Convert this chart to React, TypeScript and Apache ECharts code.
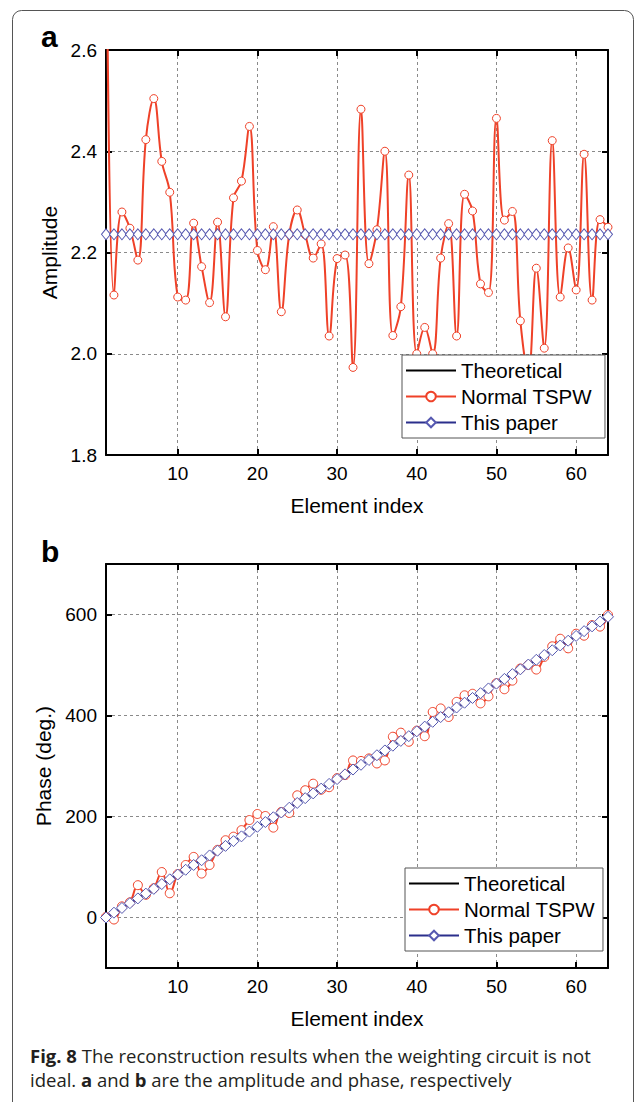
import React, { useEffect, useRef } from "react";
import * as echarts from "echarts";

// ---------- data ----------
const elementIndex = Array.from({ length: 64 }, (_, k) => k + 1);
const xTickValues = [10, 20, 30, 40, 50, 60];
const phaseTickValues = [0, 200, 400, 600];

const ampTheoretical = [
  2.236, 2.236, 2.236, 2.236, 2.236, 2.236, 2.236, 2.236, 2.236, 2.236, 2.236, 2.236, 2.236, 2.236, 2.236, 2.236,
  2.236, 2.236, 2.236, 2.236, 2.236, 2.236, 2.236, 2.236, 2.236, 2.236, 2.236, 2.236, 2.236, 2.236, 2.236, 2.236,
  2.236, 2.236, 2.236, 2.236, 2.236, 2.236, 2.236, 2.236, 2.236, 2.236, 2.236, 2.236, 2.236, 2.236, 2.236, 2.236,
  2.236, 2.236, 2.236, 2.236, 2.236, 2.236, 2.236, 2.236, 2.236, 2.236, 2.236, 2.236, 2.236, 2.236, 2.236, 2.236,
];
const ampNormalTSPW = [
  3.0, 2.116, 2.28, 2.248, 2.185, 2.423, 2.504, 2.38, 2.319, 2.112, 2.106, 2.258, 2.172, 2.101, 2.26, 2.073,
  2.308, 2.341, 2.449, 2.204, 2.166, 2.251, 2.083, 2.236, 2.284, 2.235, 2.189, 2.217, 2.035, 2.188, 2.195, 1.973,
  2.483, 2.178, 2.245, 2.4, 2.036, 2.093, 2.353, 2.0, 2.052, 2.0, 2.189, 2.257, 2.035, 2.315, 2.282, 2.138,
  2.121, 2.465, 2.264, 2.281, 2.065, 1.96, 2.169, 2.011, 2.421, 2.112, 2.209, 2.126, 2.394, 2.106, 2.265, 2.25,
];
const ampThisPaper = [
  2.236, 2.236, 2.236, 2.236, 2.236, 2.236, 2.236, 2.236, 2.236, 2.236, 2.236, 2.236, 2.236, 2.236, 2.236, 2.236,
  2.236, 2.236, 2.236, 2.236, 2.236, 2.236, 2.236, 2.236, 2.236, 2.236, 2.236, 2.236, 2.236, 2.236, 2.236, 2.236,
  2.236, 2.236, 2.236, 2.236, 2.236, 2.236, 2.236, 2.236, 2.236, 2.236, 2.236, 2.236, 2.236, 2.236, 2.236, 2.236,
  2.236, 2.236, 2.236, 2.236, 2.236, 2.236, 2.236, 2.236, 2.236, 2.236, 2.236, 2.236, 2.236, 2.236, 2.236, 2.236,
];

const phaseTheoretical = [
  0, 9.5, 18.9, 28.4, 37.8, 47.3, 56.7, 66.2, 75.6, 85.1, 94.5, 104.0, 113.4, 122.9, 132.3, 141.8,
  151.2, 160.7, 170.1, 179.6, 189.0, 198.5, 207.9, 217.4, 226.8, 236.3, 245.7, 255.2, 264.6, 274.1, 283.5, 293.0,
  302.4, 311.9, 321.3, 330.8, 340.2, 349.7, 359.1, 368.6, 378.0, 387.5, 396.9, 406.4, 415.8, 425.3, 434.7, 444.2,
  453.6, 463.1, 472.5, 482.0, 491.4, 500.9, 510.3, 519.8, 529.2, 538.7, 548.1, 557.6, 567.0, 576.5, 585.9, 595.4,
];
const phaseNormalTSPW = [
  1, -4, 22, 30, 64, 45, 58, 90, 48, 86, 104, 120, 87, 104, 134, 153,
  160, 173, 193, 205, 201, 178, 209, 207, 242, 252, 265, 253, 258, 276, 282, 311,
  310, 315, 305, 311, 358, 366, 348, 370, 359, 407, 414, 397, 427, 440, 443, 424,
  438, 464, 452, 469, 493, 500, 491, 516, 537, 552, 533, 562, 558, 579, 576, 599,
];
const phaseThisPaper = [
  0, 9.5, 18.9, 28.4, 37.8, 47.3, 56.7, 66.2, 75.6, 85.1, 94.5, 104.0, 113.4, 122.9, 132.3, 141.8,
  151.2, 160.7, 170.1, 179.6, 189.0, 198.5, 207.9, 217.4, 226.8, 236.3, 245.7, 255.2, 264.6, 274.1, 283.5, 293.0,
  302.4, 311.9, 321.3, 330.8, 340.2, 349.7, 359.1, 368.6, 378.0, 387.5, 396.9, 406.4, 415.8, 425.3, 434.7, 444.2,
  453.6, 463.1, 472.5, 482.0, 491.4, 500.9, 510.3, 519.8, 529.2, 538.7, 548.1, 557.6, 567.0, 576.5, 585.9, 595.4,
];

const seriesNames = ["Theoretical", "Normal TSPW", "This paper"];

// ---------- styles ----------
const FONT = '"Liberation Sans", Arial, Helvetica, sans-serif';
const CAPTION_FONT = '"Open Sans", "Noto Sans", sans-serif';
const RED = "#ef4128";
const NAVY = "#2b2f8c";
const DIAMOND = "#5558b0";

const pair = (ys: number[]) => elementIndex.map((x, k) => [x, ys[k]]);

function xAxes(gridIndex: number) {
  const common = {
    type: "value",
    gridIndex,
    min: 1,
    max: 64,
    axisLine: { show: true, onZero: false, lineStyle: { color: "#000", width: 2 } },
    axisTick: { show: true, inside: true, length: 6, lineStyle: { color: "#000", width: 2 }, customValues: xTickValues },
  };
  return [
    {
      ...common,
      position: "bottom",
      name: "Element index",
      nameLocation: "middle",
      nameGap: 40,
      nameTextStyle: { fontFamily: FONT, fontSize: 21, color: "#000" },
      axisLabel: { show: true, customValues: xTickValues, margin: 9, fontFamily: FONT, fontSize: 19, color: "#000" },
      splitLine: { show: true, lineStyle: { color: "#8a8a8a", type: [3, 3], width: 1 } },
    },
    {
      ...common,
      position: "top",
      axisLabel: { show: false, customValues: xTickValues },
      splitLine: { show: false },
    },
  ];
}

export default function App() {
  const ref = useRef<HTMLDivElement>(null);

  useEffect(() => {
    if (!ref.current) return;
    const chart = echarts.init(ref.current, null, { renderer: "svg" });

    const [xa0, xa1] = xAxes(0);
    const [xb0, xb1] = xAxes(1);

    const yCommon = {
      type: "value",
      axisLine: { show: true, onZero: false, lineStyle: { color: "#000", width: 2 } },
      axisTick: { show: true, inside: true, length: 6, lineStyle: { color: "#000", width: 2 } },
    };

    const legendCommon = {
      orient: "vertical",
      backgroundColor: "#fff",
      borderColor: "#555",
      borderWidth: 1,
      borderRadius: 0,
      padding: [5, 13, 5, 3],
      itemWidth: 50,
      itemHeight: 12,
      itemGap: 5,
      data: [
        { name: seriesNames[0], itemStyle: { opacity: 0, borderWidth: 0 } },
        { name: seriesNames[1] },
        { name: seriesNames[2] },
      ],
      textStyle: { fontFamily: FONT, fontSize: 20.5, color: "#000", lineHeight: 20 },
      selectedMode: false,
    };

    const lineSeries = (
      name: string,
      xi: number,
      yi: number,
      data: number[][],
      kind: "theo" | "red" | "blue",
      size: number | number[]
    ) => {
      if (kind === "theo") {
        return {
          name,
          type: "line",
          xAxisIndex: xi,
          yAxisIndex: yi,
          data,
          showSymbol: false,
          symbol: "circle",
          symbolSize: 0,
          lineStyle: { color: "#000", width: 2 },
          itemStyle: { color: "#000" },
          z: 2,
        };
      }
      if (kind === "red") {
        return {
          name,
          type: "line",
          xAxisIndex: xi,
          yAxisIndex: yi,
          data,
          smooth: 0.4,
          symbol: "circle",
          symbolSize: size,
          showAllSymbol: true,
          lineStyle: { color: RED, width: 2 },
          itemStyle: { color: "#fff", borderColor: RED, borderWidth: 1 },
          z: 3,
        };
      }
      return {
        name,
        type: "line",
        xAxisIndex: xi,
        yAxisIndex: yi,
        data,
        symbol: "diamond",
        symbolSize: size,
        showAllSymbol: true,
        lineStyle: { color: NAVY, width: 1.5 },
        itemStyle: { color: "#fff", borderColor: DIAMOND, borderWidth: 1 },
        z: 4,
      };
    };

    chart.setOption({
      animation: false,
      backgroundColor: "#fff",
      grid: [
        { left: 106, top: 50, width: 502, height: 405 },
        { left: 106, top: 564, width: 502, height: 404 },
      ],
      xAxis: [xa0, xa1, xb0, xb1],
      yAxis: [
        {
          ...yCommon,
          gridIndex: 0,
          position: "left",
          min: 1.8,
          max: 2.6,
          interval: 0.2,
          name: "Amplitude",
          nameLocation: "middle",
          nameGap: 38,
          nameRotate: 90,
          nameTextStyle: { fontFamily: FONT, fontSize: 21, color: "#000" },
          axisLabel: { margin: 9, fontFamily: FONT, fontSize: 19, color: "#000", formatter: (v: number) => v.toFixed(1) },
          splitLine: { show: true, lineStyle: { color: "#8a8a8a", type: [3, 3], width: 1 } },
        },
        {
          ...yCommon,
          gridIndex: 0,
          position: "right",
          min: 1.8,
          max: 2.6,
          interval: 0.2,
          axisLabel: { show: false },
          splitLine: { show: false },
        },
        {
          ...yCommon,
          gridIndex: 1,
          position: "left",
          min: -100,
          max: 700,
          axisTick: { ...yCommon.axisTick, customValues: phaseTickValues },
          name: "Phase (deg.)",
          nameLocation: "middle",
          nameGap: 51,
          nameRotate: 90,
          nameTextStyle: { fontFamily: FONT, fontSize: 21, color: "#000" },
          axisLabel: { margin: 9, fontFamily: FONT, fontSize: 19, color: "#000", customValues: phaseTickValues },
          splitLine: { show: true, lineStyle: { color: "#8a8a8a", type: [3, 3], width: 1 } },
        },
        {
          ...yCommon,
          gridIndex: 1,
          position: "right",
          min: -100,
          max: 700,
          axisTick: { ...yCommon.axisTick, customValues: phaseTickValues },
          axisLabel: { show: false, customValues: phaseTickValues },
          splitLine: { show: false },
        },
      ],
      legend: [
        { ...legendCommon, left: 402, top: 355 },
        { ...legendCommon, left: 405, top: 868, padding: [5, 8, 5, 3] },
      ],
      series: [
        lineSeries(seriesNames[0], 0, 0, pair(ampTheoretical), "theo", 0),
        lineSeries(seriesNames[1], 0, 0, pair(ampNormalTSPW), "red", 8),
        lineSeries(seriesNames[2], 0, 0, pair(ampThisPaper), "blue", [9, 11]),
        lineSeries(seriesNames[0], 2, 2, pair(phaseTheoretical), "theo", 0),
        lineSeries(seriesNames[1], 2, 2, pair(phaseNormalTSPW), "red", 9),
        lineSeries(seriesNames[2], 2, 2, pair(phaseThisPaper), "blue", 11),
      ],
      graphic: [
        {
          type: "rect",
          z: -10,
          shape: { x: 12.5, y: 10.5, width: 621, height: 1200, r: 9 },
          style: { fill: "none", stroke: "#555", lineWidth: 1 },
          silent: true,
        },
        {
          type: "text",
          left: 41,
          top: 21,
          style: { text: "a", fontFamily: FONT, fontSize: 30, fontWeight: "bold", fill: "#000" },
        },
        {
          type: "text",
          left: 41,
          top: 536,
          style: { text: "b", fontFamily: FONT, fontSize: 30, fontWeight: "bold", fill: "#000" },
        },
        {
          type: "text",
          left: 30,
          top: 1043,
          style: {
            text:
              "{b|Fig. 8} The reconstruction results when the weighting circuit is not\nideal. {b|a} and {b|b} are the amplitude and phase, respectively",
            fontFamily: CAPTION_FONT,
            fontSize: 18.5,
            lineHeight: 24,
            fill: "#231f20",
            rich: {
              b: { fontWeight: "bold", fontFamily: CAPTION_FONT, fontSize: 18.5, lineHeight: 24, fill: "#231f20" },
            },
          },
        },
      ],
    } as any);

    return () => chart.dispose();
  }, []);

  return (
    <div
      ref={ref}
      style={{ position: "absolute", left: 0, top: 0, width: 635, height: 1102, background: "#fff" }}
    />
  );
}
